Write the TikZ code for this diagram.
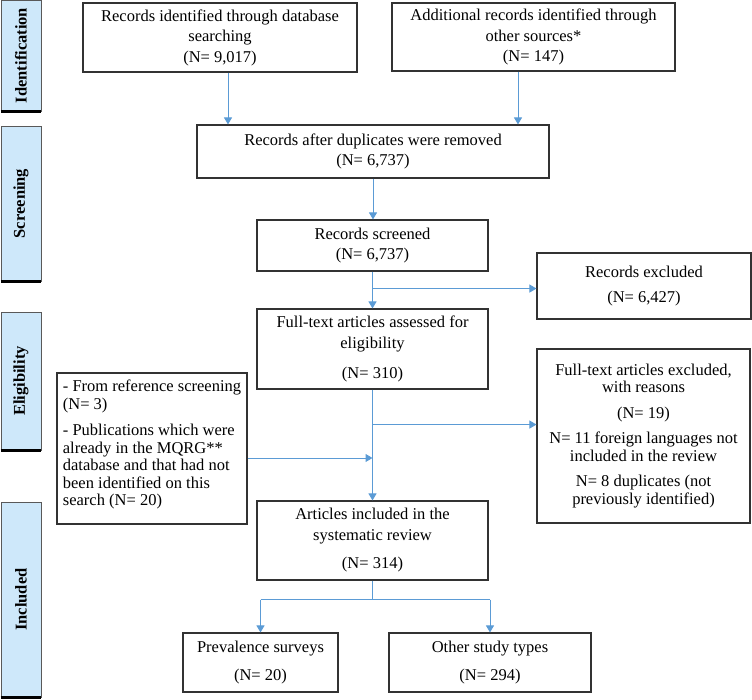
\documentclass[tikz,border=0pt]{standalone}
\usepackage{fontspec}
\setmainfont{Liberation Serif}
\usetikzlibrary{arrows.meta,calc}
\definecolor{arrowblue}{RGB}{91,155,213}
\definecolor{barblue}{RGB}{206,232,250}
\definecolor{boxline}{RGB}{50,50,50}
\begin{document}
\begin{tikzpicture}[x=1pt,y=-1pt,
  box/.style={draw=boxline, line width=1.1pt, rectangle, align=center, inner sep=0pt,
    font=\fontsize{16.5}{20.5}\selectfont},
  tight/.style={font=\fontsize{16.5}{17.5}\selectfont},
  arr/.style={draw=arrowblue, line width=1pt, -{Triangle[width=8pt,length=7pt]}},
  lin/.style={draw=arrowblue, line width=1pt},
  bar/.style={fill=barblue, draw=black!65, line width=0.8pt, minimum width=40pt, inner sep=0pt},
  barlabel/.style={rotate=90, font=\fontsize{16.5}{20}\selectfont\bfseries},
  barfoot/.style={line width=3.5pt, draw=black}
]
\useasboundingbox (0,0) rectangle (752,700);

% side bars
\node[bar, minimum height=111pt] (S1) at (21,55.5) {};
\node[barlabel] (L1) at (S1) {Identification};
\draw[barfoot] (S1.south west) -- (S1.south east);
\node[bar, minimum height=155pt] (S2) at (21,203.5) {};
\node[barlabel] (L2) at (S2) {Screening};
\draw[barfoot] (S2.south west) -- (S2.south east);
\node[bar, minimum height=138pt] (S3) at (21,381) {};
\node[barlabel] (L3) at (S3) {Eligibility};
\draw[barfoot] (S3.south west) -- (S3.south east);
\node[bar, minimum height=195pt] (S4) at (21,599.5) {};
\node[barlabel] (L4) at (S4) {Included};
\draw[barfoot] (S4.south west) -- (S4.south east);

% boxes
\node[box, minimum width=274pt, minimum height=69pt] (B1) at (220,37.5)
  {Records identified through database\\searching\\(N= 9,017)};
\node[box, minimum width=283pt, minimum height=68pt] (B2) at (533.5,37)
  {Additional records identified through\\other sources*\\(N= 147)};
\node[box, minimum width=352pt, minimum height=53pt] (B3) at (373,151.5)
  {Records after duplicates were removed\\(N= 6,737)};
\node[box, minimum width=231pt, minimum height=51pt] (B4) at (372.5,245.5)
  {Records screened\\(N= 6,737)};
\node[box, minimum width=214pt, minimum height=66pt] (B5) at (644,286)
  {Records excluded\\[5pt](N= 6,427)};
\node[box, minimum width=231pt, minimum height=80pt] (B6) at (372.5,349)
  {Full-text articles assessed for\\eligibility\\[10pt](N= 310)};
\node[box, tight, minimum width=213pt, minimum height=174pt] (B7) at (643.5,436)
  {Full-text articles excluded,\\with reasons\\[8pt](N= 19)\\[8pt]N= 11 foreign languages not\\included in the review\\[8pt]N= 8 duplicates (not\\previously identified)};
\node[box, minimum width=190pt, minimum height=151pt] (B8) at (152,448.5) {};
\node[tight, align=left, inner sep=0pt] (T8) at ([yshift=4pt]B8.center)
  {- From reference screening\\(N= 3)\\[9pt]- Publications which were\\already in the MQRG**\\database and that had not\\been identified on this\\search (N= 20)};
\node[box, minimum width=231pt, minimum height=79pt] (B9) at (372.5,540.5)
  {Articles included in the\\systematic review\\[8pt](N= 314)};
\node[box, minimum width=155pt, minimum height=59pt] (B10) at (260.5,662.5)
  {Prevalence surveys\\[8pt](N= 20)};
\node[box, minimum width=202pt, minimum height=59pt] (B11) at (490,662.5)
  {Other study types\\[8pt](N= 294)};

% connectors
\draw[arr] ([xshift=8pt]B1.south) -- ([xshift=8pt]B1.south |- B3.north);
\draw[arr] ([xshift=-15.5pt]B2.south) -- ([xshift=-15.5pt]B2.south |- B3.north);
\draw[arr] (B3.south) -- (B3.south |- B4.north);
\draw[arr] (B4.south) -- (B4.south |- B6.north);
\coordinate (j1) at ($(B4.south)+(0,17)$);
\draw[arr] (j1) -- (j1 -| B5.west);
\draw[arr] (B6.south) -- (B6.south |- B9.north);
\coordinate (j2) at ($(B6.south)+(0,35)$);
\draw[arr] (j2) -- (j2 -| B7.west);
\coordinate (j3) at ($(B8.east)+(0,9.5)$);
\draw[arr] (j3) -- (j3 -| B6.south);
\coordinate (j4) at ($(B9.south)+(0,19)$);
\draw[lin] (B9.south) -- (j4);
\draw[arr] (j4 -| B10.north) -- (B10.north);
\draw[arr] (j4 -| B11.north) -- (B11.north);
\draw[lin] (j4 -| B10.north) -- (j4 -| B11.north);
\end{tikzpicture}
\end{document}
